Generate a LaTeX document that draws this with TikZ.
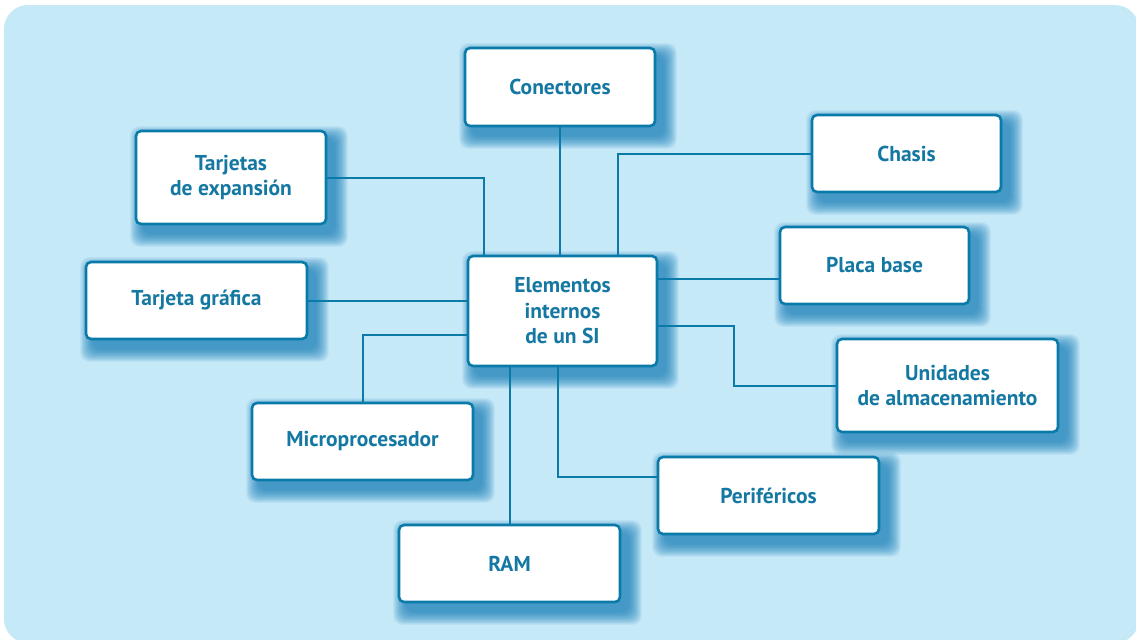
\documentclass[tikz,border=0pt]{standalone}
\usepackage{fontspec}
\setmainfont{PT Sans}
\usetikzlibrary{calc}
\definecolor{bgc}{RGB}{198,233,248}
\definecolor{linec}{RGB}{10,122,168}
\definecolor{textc}{RGB}{20,120,162}
\definecolor{shadowc}{RGB}{20,125,185}
\pgfdeclarelayer{bglayer}
\pgfdeclarelayer{shadowlayer}
\pgfsetlayers{bglayer,shadowlayer,main}
\tikzset{
  box/.style={draw=linec, line width=2.6pt, fill=white, rounded corners=5pt,
    text=textc, font=\fontsize{21.5}{25.5}\selectfont\bfseries, align=center, inner sep=0pt},
  conn/.style={draw=linec, line width=2pt}
}
\begin{document}
\begin{tikzpicture}[x=1pt,y=-1pt]
\useasboundingbox (0,0) rectangle (1136,640);
\begin{pgfonlayer}{bglayer}
\fill[bgc, rounded corners=24pt] (4,5) rectangle (1139,643);
\end{pgfonlayer}

\node[box, minimum width=190pt, minimum height=78pt] (con) at (560,87) {Conectores};
\node[box, minimum width=190pt, minimum height=93pt] (tex) at (231,177.5) {Tarjetas\\de expansión};
\node[box, minimum width=189pt, minimum height=77pt] (cha) at (906.5,153.5) {Chasis};
\node[box, minimum width=189pt, minimum height=77pt] (pla) at (874.5,265.5) {Placa base};
\node[box, minimum width=221pt, minimum height=77pt] (tgr) at (196.5,300.5) {Tarjeta gráfica};
\node[box, minimum width=189pt, minimum height=110pt] (el) at (562.5,311) {Elementos\\internos\\de un SI};
\node[box, minimum width=221pt, minimum height=93pt] (uni) at (947.5,385.5) {Unidades\\de almacenamiento};
\node[box, minimum width=221pt, minimum height=77pt] (mic) at (362.5,441.5) {Microprocesador};
\node[box, minimum width=221pt, minimum height=77pt] (per) at (768.5,495.5) {Periféricos};
\node[box, minimum width=221pt, minimum height=77pt] (ram) at (509.5,563.5) {RAM};

\coordinate (plaA) at ($(el.north east)+(0,24)$);
\coordinate (ramA) at ($(el.south west)+(43,0)$);

\begin{pgfonlayer}{shadowlayer}
\foreach \n in {con,tex,cha,pla,tgr,el,uni,mic,per,ram}{
  \foreach \k in {0,0.6,...,13.2}{
    \fill[shadowc, opacity=0.05, rounded corners=9pt]
      ($(\n.north west)+(8-\k,9-\k)$) rectangle ($(\n.south east)+(8+\k,9+\k)$);
  }
}
\draw[conn] (con.south) -- (con.south |- el.north);
\draw[conn] (tex.east) -| ($(el.north west)+(17,0)$);
\draw[conn] (cha.west) -| ($(el.north west)+(151,0)$);
\draw[conn] (plaA) -- (plaA -| pla.west);
\draw[conn] (tgr.east) -- (tgr.east -| el.west);
\draw[conn] ($(el.north east)+(0,71)$) -| ($(uni.west)+(-102,0)$) -- (uni.west);
\draw[conn] ($(el.north west)+(0,80)$) -| (mic.north);
\draw[conn] (ramA) -- (ramA |- ram.north);
\draw[conn] ($(el.south west)+(91,0)$) |- ($(per.north west)+(0,21)$);
\end{pgfonlayer}
\end{tikzpicture}
\end{document}
